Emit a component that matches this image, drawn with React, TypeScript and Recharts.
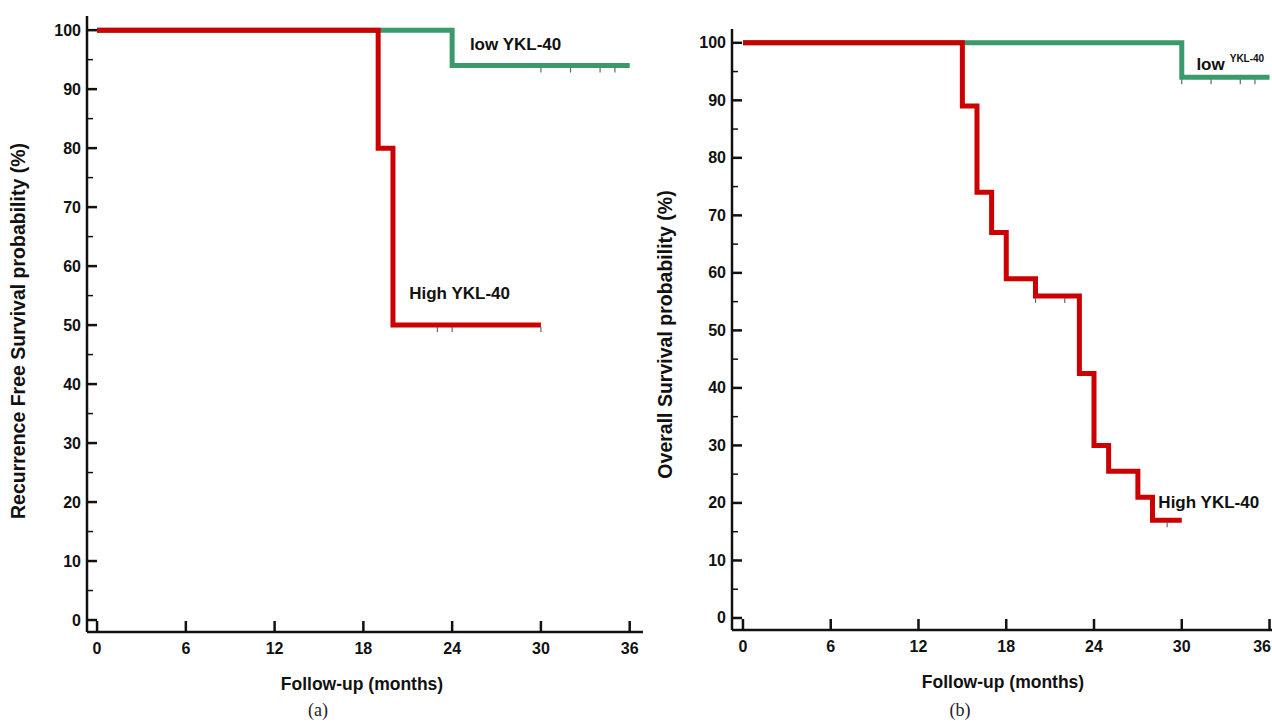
import React from "react";
import { ComposedChart, Line, Scatter, XAxis, YAxis, ReferenceDot } from "recharts";

// follow-up ticks (months) and survival ticks (%), minor ticks every 5
const monthTicks = [0, 6, 12, 18, 24, 30, 36];
const pctTicks = [0, 5, 10, 15, 20, 25, 30, 35, 40, 45, 50, 55, 60, 65, 70, 75, 80, 85, 90, 95, 100];

// (a) recurrence free survival
const rfsHighMonths = [0, 19, 20, 30];
const rfsHighPct = [100, 80, 50, 50];
const rfsLowMonths = [0, 24, 36];
const rfsLowPct = [100, 94, 94];
const rfsHighCensored = [23, 24, 30];
const rfsLowCensored = [30, 32, 34, 35];

// (b) overall survival
const osHighMonths = [0, 15, 16, 17, 18, 20, 23, 24, 25, 27, 28, 30];
const osHighPct = [100, 89, 74, 67, 59, 56, 42.5, 30, 25.5, 21, 17, 17];
const osLowMonths = [0, 30, 36];
const osLowPct = [100, 94, 94];
const osHighCensored = [20, 22, 29];
const osLowCensored = [30, 32, 34, 35];

const RED = "#cc0000";
const GREEN = "#3a9a6c";
const INK = "#111";
const FONT = "'Liberation Sans', Arial, sans-serif";
const AXIS_W = 60;
const AXIS_H = 60;

type Pt = { x: number; y: number };

const zip = (xs: number[], ys: number[]): Pt[] => xs.map((x, i) => ({ x, y: ys[i] }));

// survival level at time t
const levelAt = (xs: number[], ys: number[], t: number) => {
  let v = ys[0];
  xs.forEach((x, i) => {
    if (x <= t) v = ys[i];
  });
  return v;
};

const censorPts = (xs: number[], ys: number[], times: number[]): Pt[] =>
  times.map((t) => ({ x: t, y: levelAt(xs, ys, t) }));

const YTick = (props: any) => {
  const { x, y, payload } = props;
  const major = payload.value % 10 === 0;
  return (
    <g>
      <line x1={x} x2={x + (major ? 10 : 6)} y1={y} y2={y} stroke={INK} strokeWidth={major ? 2.5 : 1.5} />
      {major && (
        <text x={x - 6} y={y} textAnchor="end" dominantBaseline="central" fontFamily={FONT} fontWeight="bold" fontSize={16} fill={INK}>
          {payload.value}
        </text>
      )}
    </g>
  );
};

const XTick = (props: any) => {
  const { x, y, payload, edge } = props;
  // keep a label that would run off the page edge inside it
  const tooFar = edge !== undefined && x + 9 > edge;
  return (
    <g>
      <line x1={x} x2={x} y1={y} y2={y - 11} stroke={INK} strokeWidth={2.5} />
      <text
        x={tooFar ? edge : x}
        y={y + 16}
        textAnchor={tooFar ? "end" : "middle"}
        dominantBaseline="central"
        fontFamily={FONT}
        fontWeight="bold"
        fontSize={16}
        fill={INK}
      >
        {payload.value}
      </text>
    </g>
  );
};

const CensorMark = (props: any) => {
  const { cx, cy } = props;
  return <line x1={cx} x2={cx} y1={cy + 2} y2={cy + 7} stroke="#666" strokeWidth={1.2} />;
};

const seriesLabel = (text: string, sup?: string) => (props: any) => {
  const { viewBox } = props;
  const x = viewBox.x + viewBox.width / 2;
  const y = viewBox.y + viewBox.height / 2;
  return (
    <text x={x} y={y} dominantBaseline="central" fontFamily={FONT} fontWeight="bold" fontSize={17} fill={INK}>
      {text}
      {sup && (
        <tspan dx={5} dy={-7} fontSize={10}>
          {sup}
        </tspan>
      )}
    </text>
  );
};

type PanelProps = {
  width: number;
  height: number;
  plot: { top: number; right: number; bottom: number; left: number };
  xDomain: [number, number];
  yDomain: [number, number];
  labelEdge?: number;
  yTitle: string;
  yTitleDx: number;
  yTitleDy: number;
  xTitleDx: number;
  high: Pt[];
  low: Pt[];
  highCensored: Pt[];
  lowCensored: Pt[];
  lowLabel: { x: number; y: number; text: string; sup?: string };
  highLabel: { x: number; y: number; text: string };
};

function KMPanel(p: PanelProps) {
  const margin = {
    top: p.plot.top,
    right: p.plot.right,
    bottom: p.plot.bottom - AXIS_H,
    left: p.plot.left - AXIS_W,
  };
  return (
    <ComposedChart width={p.width} height={p.height} margin={margin}>
      <XAxis
        type="number"
        dataKey="x"
        domain={p.xDomain}
        allowDataOverflow
        ticks={monthTicks}
        interval={0}
        height={AXIS_H}
        tickSize={0}
        tickMargin={0}
        tickLine={false}
        tick={<XTick edge={p.labelEdge} />}
        axisLine={{ stroke: INK, strokeWidth: 2.5 }}
        label={{
          value: "Follow-up (months)",
          content: (lp: any) => (
            <text
              x={lp.viewBox.x + lp.viewBox.width / 2 + p.xTitleDx}
              y={lp.viewBox.y + 52}
              textAnchor="middle"
              dominantBaseline="central"
              fontFamily={FONT}
              fontWeight="bold"
              fontSize={17.5}
              fill={INK}
            >
              Follow-up (months)
            </text>
          ),
        }}
      />
      <YAxis
        type="number"
        domain={p.yDomain}
        allowDataOverflow
        ticks={pctTicks}
        interval={0}
        width={AXIS_W}
        tickSize={0}
        tickMargin={0}
        tickLine={false}
        tick={<YTick />}
        axisLine={{ stroke: INK, strokeWidth: 2.5 }}
        label={{
          value: p.yTitle,
          content: (lp: any) => {
            const cx = lp.viewBox.x + lp.viewBox.width + p.yTitleDx;
            const cy = lp.viewBox.y + lp.viewBox.height / 2 + p.yTitleDy;
            return (
              <text
                x={cx}
                y={cy}
                transform={`rotate(-90 ${cx} ${cy})`}
                textAnchor="middle"
                dominantBaseline="central"
                fontFamily={FONT}
                fontWeight="bold"
                fontSize={19.5}
                fill={INK}
              >
                {p.yTitle}
              </text>
            );
          },
        }}
      />
      <Line data={p.low} dataKey="y" type="stepAfter" stroke={GREEN} strokeWidth={5} dot={false} isAnimationActive={false} />
      <Line data={p.high} dataKey="y" type="stepAfter" stroke={RED} strokeWidth={5} dot={false} isAnimationActive={false} />
      <Scatter data={p.lowCensored} dataKey="y" shape={<CensorMark />} isAnimationActive={false} />
      <Scatter data={p.highCensored} dataKey="y" shape={<CensorMark />} isAnimationActive={false} />
      <ReferenceDot x={p.lowLabel.x} y={p.lowLabel.y} r={1} fill="none" stroke="none" label={{ content: seriesLabel(p.lowLabel.text, p.lowLabel.sup) }} />
      <ReferenceDot x={p.highLabel.x} y={p.highLabel.y} r={1} fill="none" stroke="none" label={{ content: seriesLabel(p.highLabel.text) }} />
    </ComposedChart>
  );
}

export default function App() {
  return (
    <div style={{ position: "absolute", left: 0, top: 0, width: 1272, height: 726, overflow: "hidden", background: "#fff" }}>
      <div style={{ position: "absolute", left: 0, top: 0 }}>
        <KMPanel
          width={650}
          height={726}
          plot={{ top: 16, right: 7, bottom: 94, left: 87 }}
          xDomain={[-0.68, 36.9]}
          yDomain={[-2.03, 102.4]}
          yTitle="Recurrence Free Survival probability (%)"
          yTitleDx={-69}
          yTitleDy={7}
          xTitleDx={-3}
          high={zip(rfsHighMonths, rfsHighPct)}
          low={zip(rfsLowMonths, rfsLowPct)}
          highCensored={censorPts(rfsHighMonths, rfsHighPct, rfsHighCensored)}
          lowCensored={censorPts(rfsLowMonths, rfsLowPct, rfsLowCensored)}
          lowLabel={{ x: 25.2, y: 97.5, text: "low YKL-40" }}
          highLabel={{ x: 21.1, y: 55.4, text: "High YKL-40" }}
        />
      </div>
      <div style={{ position: "absolute", left: 645, top: 0 }}>
        <KMPanel
          width={655}
          height={726}
          plot={{ top: 29, right: 10, bottom: 96, left: 87 }}
          xDomain={[-0.75, 37.4]}
          yDomain={[-2.09, 102.4]}
          labelEdge={1271 - 645}
          yTitle="Overall Survival probability (%)"
          yTitleDx={-67}
          yTitleDy={5}
          xTitleDx={-8}
          high={zip(osHighMonths, osHighPct)}
          low={zip(osLowMonths, osLowPct)}
          highCensored={censorPts(osHighMonths, osHighPct, osHighCensored)}
          lowCensored={censorPts(osLowMonths, osLowPct, osLowCensored)}
          lowLabel={{ x: 31.0, y: 96.2, text: "low", sup: "YKL-40" }}
          highLabel={{ x: 28.4, y: 20, text: "High YKL-40" }}
        />
      </div>
      <div style={{ position: "absolute", left: 300, top: 700, width: 36, textAlign: "center", fontFamily: "'Liberation Serif', serif", fontSize: 18, color: "#222" }}>
        (a)
      </div>
      <div style={{ position: "absolute", left: 942, top: 700, width: 36, textAlign: "center", fontFamily: "'Liberation Serif', serif", fontSize: 18, color: "#222" }}>
        (b)
      </div>
    </div>
  );
}
